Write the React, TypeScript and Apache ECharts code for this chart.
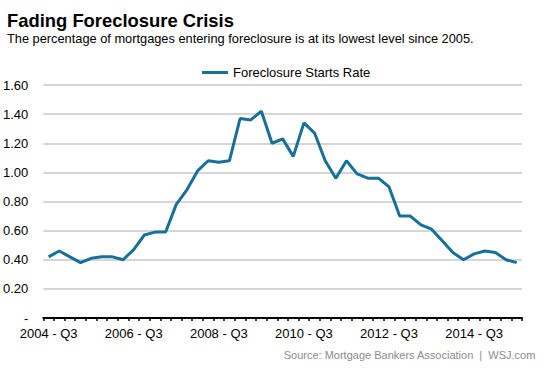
import React, { useEffect, useRef } from "react";
import * as echarts from "echarts";

const years = [2004, 2005, 2006, 2007, 2008, 2009, 2010, 2011, 2012, 2013, 2014, 2015];
const categories: string[] = [];
years.forEach((y) => {
  [1, 2, 3, 4].forEach((q) => {
    if ((y === 2004 && q < 3) || (y === 2015 && q > 3)) return;
    categories.push(`${y} - Q${q}`);
  });
});

const foreclosureStartsRate = [
  0.42, 0.46, 0.42, 0.38, 0.41, 0.42, 0.42, 0.40, 0.47, 0.57,
  0.59, 0.59, 0.78, 0.88, 1.01, 1.08, 1.07, 1.08, 1.37, 1.36,
  1.42, 1.20, 1.23, 1.11, 1.34, 1.27, 1.08, 0.96, 1.08, 0.99,
  0.96, 0.96, 0.90, 0.70, 0.70, 0.64, 0.61, 0.53, 0.45, 0.40,
  0.44, 0.46, 0.45, 0.40, 0.38,
];

const title = "Fading Foreclosure Crisis";
const subtitle = "The percentage of mortgages entering foreclosure is at its lowest level since 2005.";
const source = "Source: Mortgage Bankers Association  |  WSJ.com";

export default function App() {
  const ref = useRef<HTMLDivElement>(null);
  useEffect(() => {
    if (!ref.current) return;
    const chart = echarts.init(ref.current, null, { renderer: "svg" });
    const font = "Arial, 'Liberation Sans', sans-serif";
    chart.setOption({
      animation: false,
      backgroundColor: "#ffffff",
      textStyle: { fontFamily: font },
      title: [
        {
          text: title,
          left: 2,
          top: 6,
          textStyle: { fontSize: 18.4, fontWeight: "bold", color: "#000", fontFamily: font },
        },
        {
          text: subtitle,
          left: 2,
          top: 27,
          textStyle: { fontSize: 12.8, fontWeight: "normal", color: "#000", fontFamily: font },
        },
        {
          text: source,
          right: 12,
          top: 344,
          textStyle: { fontSize: 11, fontWeight: "normal", color: "#8c8c8c", fontFamily: font },
        },
      ],
      legend: {
        top: 61,
        left: 197,
        itemWidth: 26,
        itemHeight: 3,
        itemGap: 6,
        icon: "rect",
        textStyle: { fontSize: 13, color: "#000", fontFamily: font },
        data: ["Foreclosure Starts Rate"],
      },
      grid: { left: 42, right: 31, top: 85, bottom: 51, containLabel: false },
      xAxis: {
        type: "category",
        data: categories,
        boundaryGap: true,
        axisLine: { show: true, lineStyle: { color: "#000", width: 2 } },
        axisTick: { show: true, interval: 0, length: 3, lineStyle: { color: "#000", width: 1.5 } },
        axisLabel: {
          interval: 7,
          fontSize: 13,
          color: "#000",
          margin: 9,
          fontFamily: font,
        },
        splitLine: { show: false },
      },
      yAxis: {
        type: "value",
        min: 0,
        max: 1.6,
        interval: 0.2,
        axisLine: { show: false },
        axisTick: { show: false },
        axisLabel: {
          fontSize: 13,
          color: "#000",
          margin: 15,
          fontFamily: font,
          formatter: (v: number) => (v === 0 ? "-" : v.toFixed(2)),
        },
        splitLine: { show: true, lineStyle: { color: "#c8c8c8", width: 1.5 } },
      },
      series: [
        {
          name: "Foreclosure Starts Rate",
          type: "line",
          data: foreclosureStartsRate,
          symbol: "none",
          lineStyle: { color: "#17709a", width: 3 },
          itemStyle: { color: "#17709a" },
        },
      ],
    });
    return () => chart.dispose();
  }, []);
  return <div ref={ref} style={{ width: 553, height: 369, position: "absolute", left: 0, top: 0 }} />;
}
